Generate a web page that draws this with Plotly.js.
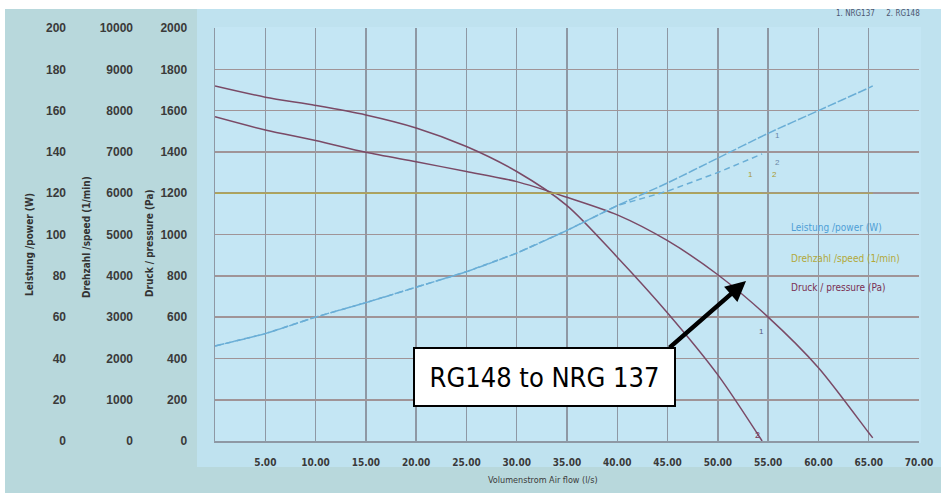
<!DOCTYPE html>
<html>
<head>
<meta charset="utf-8">
<script src="https://cdn.plot.ly/plotly-3.0.1.min.js"></script>
<style>html,body{margin:0;padding:0;background:#fff;}#chart{width:941px;height:493px;}</style>
</head>
<body>
<div id="chart"></div>
<script>
// ---- data ----
const flow1 = [0, 5, 10, 15, 20, 25, 30, 35, 40, 45, 50, 55, 60, 65, 65.4];
const pressure1 = [1570, 1506, 1455, 1398, 1352, 1305, 1256, 1180, 1095, 970, 805, 600, 355, 40, 15];
const power1 = [46, 52, 60, 67, 74.5, 82, 91, 102, 114, 125, 137, 149, 160, 171, 172];
const speed1 = [6000, 6000, 6000, 6000, 6000, 6000, 6000, 6000, 6000, 6000, 6000, 6000, 6000, 6000, 6000];

const flow2 = [0, 5, 10, 15, 20, 25, 30, 35, 40, 45, 50, 54.4];
const pressure2 = [1719, 1665, 1625, 1579, 1516, 1426, 1305, 1140, 890, 620, 320, 0];
const power2 = [46, 52, 60, 67, 74.5, 82, 91, 102, 114, 121, 130, 139];
const speed2 = [6000, 6000, 6000, 6000, 6000, 6000, 6000, 6000, 6000, 6000, 6000, 6000];

const xTickVals = [5, 10, 15, 20, 25, 30, 35, 40, 45, 50, 55, 60, 65, 70];
const xTickText = ['5.00', '10.00', '15.00', '20.00', '25.00', '30.00', '35.00', '40.00', '45.00', '50.00', '55.00', '60.00', '65.00', '70.00'];

const xTitle = 'Volumenstrom Air flow (l/s)';
const powerTitle = 'Leistung /power (W)';
const speedTitle = 'Drehzahl /speed (1/min)';
const pressureTitle = 'Druck / pressure (Pa)';
const modelsNote = '1. NRG137     2. RG148';
const calloutText = 'RG148 to NRG 137';

// ---- helpers for pixel-based layout ----
const W = 941, H = 493;
const px = v => v / W;
const py = v => 1 - v / H;

const narrow = 'DejaVu Sans Condensed, Liberation Sans Narrow, Roboto, Arial, sans-serif';
const sans = 'Liberation Sans, Arial, sans-serif';

const pColor = '#7a4a66';
const wColor = '#6aaed6';
const sColor = 'rgba(176,168,80,0.7)';

const traces = [
  {x: flow1, y: speed1, yaxis: 'y2', mode: 'lines', line: {color: sColor, width: 1.6}, hoverinfo: 'skip'},
  {x: flow2, y: speed2, yaxis: 'y2', mode: 'lines', line: {color: sColor, width: 1.6}, hoverinfo: 'skip'},
  {x: flow1, y: power1, yaxis: 'y3', mode: 'lines', line: {color: wColor, width: 1.5, dash: '9px,2px', shape: 'spline', smoothing: 0.6}},
  {x: flow2, y: power2, yaxis: 'y3', mode: 'lines', line: {color: wColor, width: 1.5, dash: '6px,4px'}},
  {x: flow1, y: pressure1, yaxis: 'y', mode: 'lines', line: {color: pColor, width: 1.5, shape: 'spline', smoothing: 0.8}},
  {x: flow2, y: pressure2, yaxis: 'y', mode: 'lines', line: {color: pColor, width: 1.5, shape: 'spline', smoothing: 0.8}}
];

const tickFontY = {family: sans, size: 12, color: '#3a3a3a', weight: 'bold'};

const layout = {
  width: W, height: H,
  margin: {l: 0, r: 0, t: 0, b: 0, pad: 0},
  paper_bgcolor: '#ffffff',
  plot_bgcolor: 'rgba(0,0,0,0)',
  showlegend: false,
  xaxis: {
    domain: [px(215), px(919)],
    range: [0, 70],
    tickvals: xTickVals, ticktext: xTickText,
    ticks: '', showline: true, linecolor: '#8e98a4', linewidth: 1.5,
    gridcolor: '#8e98a4', gridwidth: 1.3, zeroline: false,
    tickfont: {family: narrow, size: 10, color: '#3a3a3a', weight: 'bold'},
    ticklabelstandoff: 11,
    fixedrange: true
  },
  yaxis: {
    domain: [1 - 441 / H, 1 - 28 / H],
    range: [0, 2000], dtick: 200,
    ticks: '', showline: true, linecolor: '#8e98a4', linewidth: 1.5,
    gridcolor: '#a09497', gridwidth: 1.6, zeroline: false,
    tickfont: tickFontY,
    ticklabelstandoff: 24,
    fixedrange: true
  },
  yaxis2: {
    overlaying: 'y', anchor: 'free', position: px(133), side: 'left',
    range: [0, 10000], dtick: 1000, tickformat: 'd',
    showgrid: false, zeroline: false, showline: false, ticks: '',
    tickfont: tickFontY, fixedrange: true
  },
  yaxis3: {
    overlaying: 'y', anchor: 'free', position: px(66), side: 'left',
    range: [0, 200], dtick: 20,
    showgrid: false, zeroline: false, showline: false, ticks: '',
    tickfont: tickFontY, fixedrange: true
  },
  shapes: [
    {type: 'rect', xref: 'paper', yref: 'paper', x0: px(5), x1: 1, y0: 0, y1: py(9), fillcolor: '#b8d8dc', line: {width: 0}, layer: 'below'},
    {type: 'rect', xref: 'paper', yref: 'paper', x0: px(197), x1: 1, y0: py(467), y1: py(9), fillcolor: '#bfe2ef', line: {width: 0}, layer: 'below'},
    {type: 'rect', xref: 'paper', yref: 'paper', x0: px(215), x1: px(921), y0: py(443), y1: py(27), fillcolor: '#c4e6f4', line: {width: 0}, layer: 'below'}
  ],
  annotations: [
    {xref: 'paper', yref: 'paper', x: px(543), y: py(480), text: xTitle, showarrow: false,
     font: {family: narrow, size: 9, color: '#3a3a3a'}, xanchor: 'center', yanchor: 'middle'},
    {xref: 'paper', yref: 'paper', x: px(29), y: py(245), text: powerTitle, showarrow: false, textangle: -90,
     font: {family: narrow, size: 10, color: '#333', weight: 'bold'}, xanchor: 'center', yanchor: 'middle'},
    {xref: 'paper', yref: 'paper', x: px(86), y: py(237), text: speedTitle, showarrow: false, textangle: -90,
     font: {family: narrow, size: 10, color: '#333', weight: 'bold'}, xanchor: 'center', yanchor: 'middle'},
    {xref: 'paper', yref: 'paper', x: px(149), y: py(243), text: pressureTitle, showarrow: false, textangle: -90,
     font: {family: narrow, size: 10, color: '#333', weight: 'bold'}, xanchor: 'center', yanchor: 'middle'},
    {xref: 'paper', yref: 'paper', x: px(922), y: py(14), text: modelsNote, showarrow: false,
     font: {family: narrow, size: 8, color: '#4d5670'}, xanchor: 'right', yanchor: 'middle'},
    {xref: 'paper', yref: 'paper', x: px(789), y: py(227), text: powerTitle, showarrow: false,
     font: {family: narrow, size: 10, color: '#4f9fd6'}, xanchor: 'left', yanchor: 'middle'},
    {xref: 'paper', yref: 'paper', x: px(789), y: py(258), text: speedTitle, showarrow: false,
     font: {family: narrow, size: 10, color: '#b3a838'}, xanchor: 'left', yanchor: 'middle'},
    {xref: 'paper', yref: 'paper', x: px(789), y: py(287), text: pressureTitle, showarrow: false,
     font: {family: narrow, size: 10, color: '#7a2f52'}, xanchor: 'left', yanchor: 'middle'},
    // curve labels
    {x: 55.9, y: 148, yref: 'y3', text: '1', showarrow: false, font: {family: sans, size: 8, color: '#6a88a8'}},
    {x: 55.9, y: 135, yref: 'y3', text: '2', showarrow: false, font: {family: sans, size: 8, color: '#6a88a8'}},
    {x: 53.2, y: 6450, yref: 'y2', text: '1', showarrow: false, font: {family: sans, size: 8, color: '#a89a30'}},
    {x: 55.6, y: 6450, yref: 'y2', text: '2', showarrow: false, font: {family: sans, size: 8, color: '#a89a30'}},
    {x: 54.3, y: 530, text: '1', showarrow: false, font: {family: sans, size: 8, color: '#5a5a7a'}},
    {x: 53.9, y: 30, text: '2', showarrow: false, font: {family: sans, size: 9, color: '#7a3a5a'}},
    // callout
    {xref: 'paper', yref: 'paper', x: px(544), y: py(376.5), text: calloutText, showarrow: false,
     font: {family: narrow, size: 27, color: '#000'}, bgcolor: '#ffffff', bordercolor: '#000', borderwidth: 2,
     width: 257, height: 54, xanchor: 'center', yanchor: 'middle'},
    {x: 52.8, y: 775, text: '', showarrow: true, ax: -78, ay: 68, axref: 'pixel', ayref: 'pixel',
     arrowhead: 2, arrowsize: 0.9, arrowwidth: 4.5, arrowcolor: '#000', standoff: 0}
  ]
};

Plotly.newPlot('chart', traces, layout, {displayModeBar: false, staticPlot: true});
</script>
</body>
</html>
